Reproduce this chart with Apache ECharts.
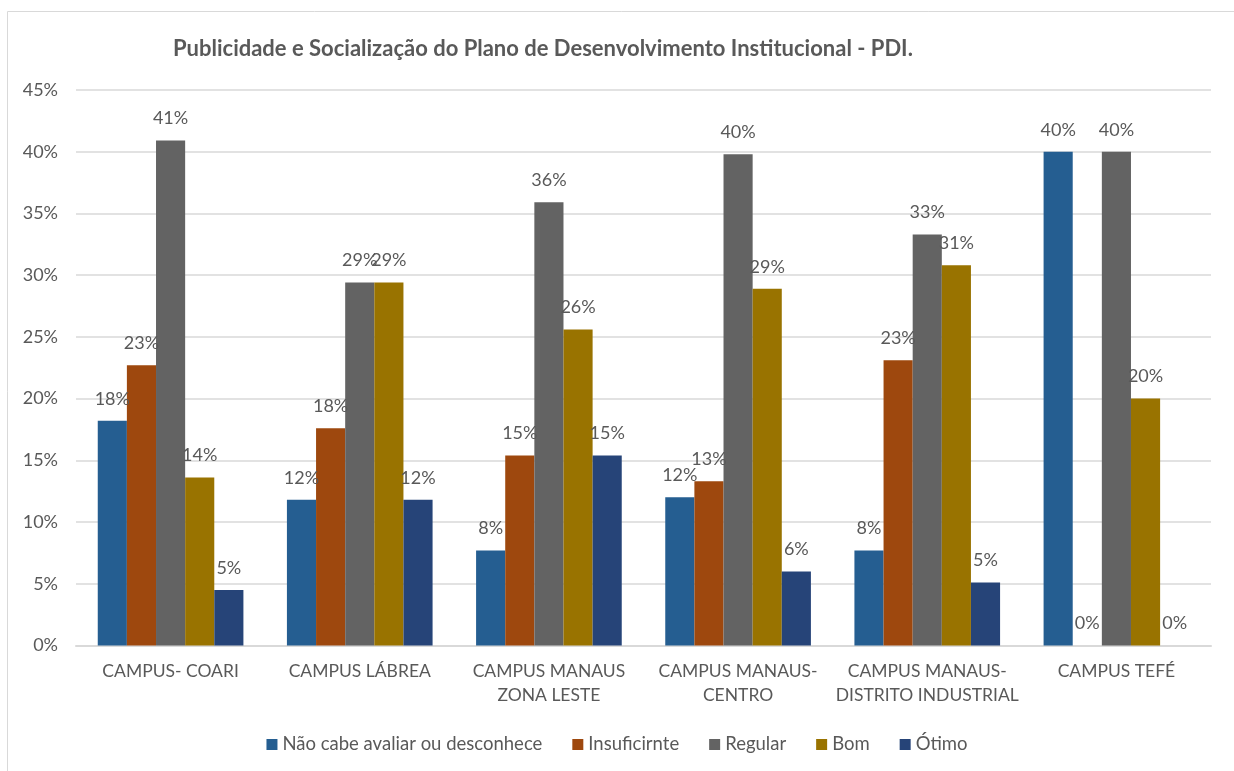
<!DOCTYPE html>
<html><head><meta charset="utf-8">
<script src="https://cdn.jsdelivr.net/npm/echarts@6/dist/echarts.min.js"></script>
<style>html,body{margin:0;padding:0;background:#fff}#c{width:1234px;height:771px}</style>
</head><body><div id="c"></div>
<script>
const categories = ['CAMPUS- COARI','CAMPUS LÁBREA','CAMPUS MANAUS\nZONA LESTE','CAMPUS MANAUS-\nCENTRO','CAMPUS MANAUS-\nDISTRITO INDUSTRIAL','CAMPUS TEFÉ'];
const seriesNames = ['Não cabe avaliar ou desconhece','Insuficirnte','Regular','Bom','Ótimo'];
const naoCabe = [18.2, 11.8, 7.7, 12.0, 7.7, 40];
const insuficiente = [22.7, 17.6, 15.4, 13.3, 23.1, 0];
const regular = [40.9, 29.4, 35.9, 39.8, 33.3, 40];
const bom = [13.6, 29.4, 25.6, 28.9, 30.8, 20];
const otimo = [4.5, 11.8, 15.4, 6.0, 5.1, 0];
const colors = ['#255E91','#9E480E','#636363','#997300','#264478'];
const FONT = 'Lato';
const values = [naoCabe, insuficiente, regular, bom, otimo];
const chart = echarts.init(document.getElementById('c'));
chart.setOption({
  animation: false,
  textStyle: {fontFamily: FONT},
  graphic: [{type:'rect', shape:{x:7.5,y:11.5,width:1240,height:780}, style:{fill:'none',stroke:'#d9d9d9',lineWidth:1}}],
  title: {text:'Publicidade e Socialização do Plano de Desenvolvimento Institucional - PDI.', left:168, top:33,
    textStyle:{fontFamily:FONT,fontWeight:'bold',fontSize:22,color:'#595959'}},
  legend: {top:730, left:'center', itemWidth:11, itemHeight:11, itemGap:30, icon:'rect',
    textStyle:{fontFamily:FONT,fontSize:18.5,color:'#595959'}, data: seriesNames},
  grid: {left:76, right:23, top:90, bottom:125.5},
  xAxis: {type:'category', data:categories,
    axisLine:{lineStyle:{color:'#d9d9d9',width:2}}, axisTick:{show:false},
    axisLabel:{interval:0, fontFamily:FONT,fontSize:17.5,color:'#595959',lineHeight:24,margin:14}},
  yAxis: {type:'value', min:0, max:45, interval:5,
    axisLine:{show:false}, axisTick:{show:false},
    splitLine:{lineStyle:{color:'#d9d9d9',width:1.5}},
    axisLabel:{formatter:'{value}%', fontFamily:FONT,fontSize:18,color:'#595959',margin:18}},
  series: seriesNames.map((n,i)=>({
    name:n, type:'bar', data:values[i], barGap:'0%', barCategoryGap:'23%',
    itemStyle:{color:colors[i]},
    label:{show:true, position:'top', distance:13, formatter:p=>Math.round(p.value)+'%',
      fontFamily:FONT,fontSize:18,color:'#595959'}
  }))
});
</script></body></html>
